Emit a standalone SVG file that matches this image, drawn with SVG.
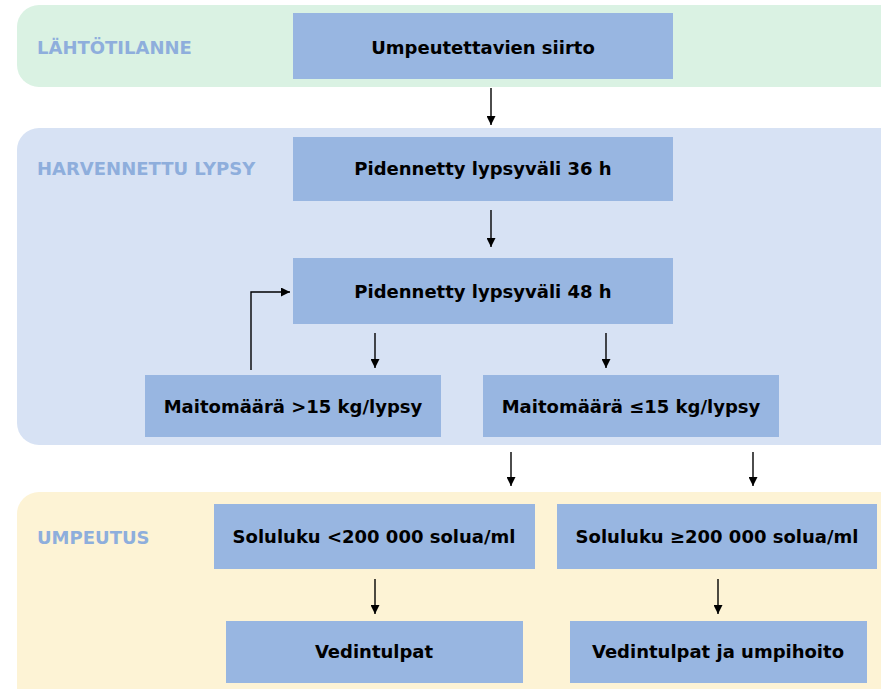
<svg xmlns="http://www.w3.org/2000/svg" width="881" height="689" viewBox="0 0 881 689">
<defs>
<marker id="ah" viewBox="0 0 10 10" refX="10" refY="5" markerWidth="10" markerHeight="9" markerUnits="userSpaceOnUse" orient="auto"><path d="M0,0 L10,5 L0,10 z" fill="#000"/></marker>
</defs>
<style>
.node rect{fill:#98b6e1}
.node text{font-family:"DejaVu Sans",Verdana,sans-serif;font-weight:bold;font-size:18px;fill:#000;text-anchor:middle;dominant-baseline:central}
.lbl{font-family:"DejaVu Sans",Verdana,sans-serif;font-weight:bold;font-size:18px;fill:#8eaedc}
.conn path{fill:none;stroke:#000;stroke-width:1.4;marker-end:url(#ah)}
</style>
<rect width="881" height="689" fill="#fff"/>
<g id="band-lahto"><rect x="17" y="5" width="890" height="82" rx="22" fill="#daf2e3"/><text class="lbl" x="37" y="54">LÄHTÖTILANNE</text></g>
<g id="band-harv"><rect x="17" y="128" width="890" height="317" rx="22" fill="#d7e2f4"/><text class="lbl" x="37" y="175">HARVENNETTU LYPSY</text></g>
<g id="band-umpeutus"><rect x="17" y="492" width="890" height="220" rx="22" fill="#fdf3d5"/><text class="lbl" x="37" y="544">UMPEUTUS</text></g>

<g id="n1" class="node"><rect x="293" y="13" width="380" height="66"/><text x="483" y="47">Umpeutettavien siirto</text></g>
<g id="n2" class="node"><rect x="293" y="137" width="380" height="64"/><text x="483" y="168">Pidennetty lypsyväli 36 h</text></g>
<g id="n3" class="node"><rect x="293" y="258" width="380" height="66"/><text x="483" y="291">Pidennetty lypsyväli 48 h</text></g>
<g id="n4" class="node"><rect x="145" y="375" width="296" height="62"/><text x="293" y="406">Maitomäärä &gt;15 kg/lypsy</text></g>
<g id="n5" class="node"><rect x="483" y="375" width="296" height="62"/><text x="631" y="406">Maitomäärä ≤15 kg/lypsy</text></g>
<g id="n6" class="node"><rect x="214" y="504" width="321" height="65"/><text x="374" y="536">Soluluku &lt;200 000 solua/ml</text></g>
<g id="n7" class="node"><rect x="557" y="504" width="320" height="65"/><text x="717" y="536">Soluluku ≥200 000 solua/ml</text></g>
<g id="n8" class="node"><rect x="226" y="621" width="297" height="62"/><text x="374" y="651">Vedintulpat</text></g>
<g id="n9" class="node"><rect x="570" y="621" width="297" height="62"/><text x="718" y="651">Vedintulpat ja umpihoito</text></g>

<g id="connectors" class="conn">
<path d="M491,88 V125"/>
<path d="M491,210 V247"/>
<path d="M251,370 V292 H290"/>
<path d="M375,333 V368"/>
<path d="M606,333 V368"/>
<path d="M511,452 V486"/>
<path d="M753,452 V486"/>
<path d="M375,579 V614"/>
<path d="M718,579 V614"/>
</g>
</svg>
